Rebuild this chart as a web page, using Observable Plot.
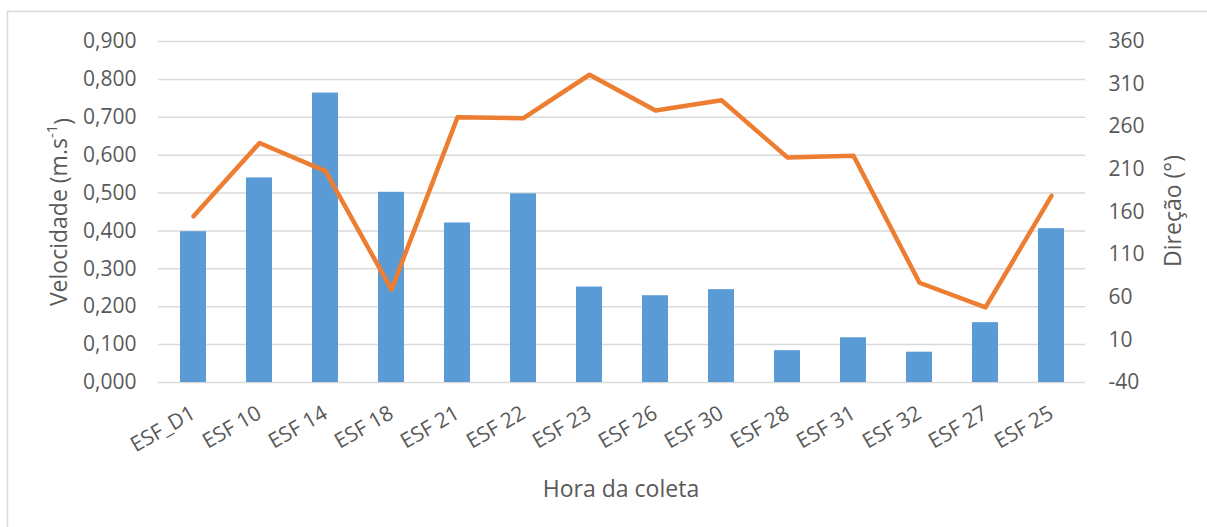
<!DOCTYPE html>
<html>
<head>
<meta charset="utf-8">
<script src="https://cdn.jsdelivr.net/npm/d3@7"></script>
<script src="https://cdn.jsdelivr.net/npm/@observablehq/plot@0.6"></script>
<style>
  body { margin: 0; background: #fff; }
  #chart { position: relative; width: 1207px; height: 527px; overflow: hidden; }
</style>
</head>
<body>
<div id="chart"></div>
<script>
// Categories (x axis)
const categories = ["ESF_D1", "ESF 10", "ESF 14", "ESF 18", "ESF 21", "ESF 22", "ESF 23",
                    "ESF 26", "ESF 30", "ESF 28", "ESF 31", "ESF 32", "ESF 27", "ESF 25"];
// Velocidade (m.s-1) — bars, left axis
const velocidade = [0.398, 0.540, 0.764, 0.502, 0.421, 0.498, 0.252,
                    0.229, 0.245, 0.084, 0.118, 0.080, 0.158, 0.406];
// Direção (°) — line, right axis
const direcao = [155, 241, 208, 69, 271, 270, 321,
                 279, 291, 224, 226, 77, 48, 179];
// Tick labels
const velTicks = [0, 0.1, 0.2, 0.3, 0.4, 0.5, 0.6, 0.7, 0.8, 0.9];
const dirTicks = [-40, 10, 60, 110, 160, 210, 260, 310, 360];

const velMax = 0.9, dirMin = -40, dirMax = 360;
const toV = d => (d - dirMin) / (dirMax - dirMin) * velMax;
const toD = v => Math.round(v / velMax * (dirMax - dirMin) + dirMin);
const rows = categories.map((c, i) => ({c, v: velocidade[i], d: direcao[i]}));
const fmtVel = v => d3.format(".3f")(v).replace(".", ",");

const textColor = "#595959";
const plot = Plot.plot({
  width: 1207,
  height: 527,
  marginLeft: 158,
  marginRight: 122,
  marginTop: 41,
  marginBottom: 145,
  style: {fontFamily: "'Open Sans', sans-serif", fontSize: "21px", color: textColor, background: "transparent"},
  x: {domain: categories, type: "band", paddingInner: 0.61, paddingOuter: 0.305, label: null},
  y: {domain: [0, velMax], label: null},
  marks: [
    Plot.ruleY(velTicks, {stroke: "#d9d9d9", strokeWidth: 1.5}),
    Plot.barY(rows, {x: "c", y: "v", fill: "#5B9BD5"}),
    Plot.line(rows, {x: "c", y: r => toV(r.d), stroke: "#ED7D31", strokeWidth: 4.5,
                     strokeLinejoin: "round", strokeLinecap: "round"}),
    Plot.axisY(velTicks, {anchor: "left", tickSize: 0, tickPadding: 22, tickFormat: fmtVel, label: null, fill: textColor}),
    Plot.axisY(dirTicks.map(toV), {anchor: "right", tickSize: 0, tickPadding: 23, tickFormat: toD, label: null, fill: textColor}),
    Plot.axisX({tickRotate: -30, tickSize: 0, tickPadding: 29, label: null, fill: textColor})
  ]
});

const chart = document.getElementById("chart");
chart.appendChild(plot);
const svg = d3.select(plot);

// Outer border
svg.insert("rect", ":first-child")
  .attr("x", 7.5).attr("y", 11.5).attr("width", 1400).attr("height", 700)
  .attr("fill", "none").attr("stroke", "#d9d9d9").attr("stroke-width", 1.5);

const titleFont = "'Open Sans', sans-serif";
// Left title
const lt = svg.append("text")
  .attr("transform", "translate(58,212) rotate(-90)")
  .attr("text-anchor", "middle").attr("dominant-baseline", "central")
  .attr("font-family", titleFont).attr("font-size", 23).attr("fill", textColor);
lt.append("tspan").text("Velocidade (m.s");
lt.append("tspan").attr("dy", "-0.45em").attr("font-size", 15).text("-1");
lt.append("tspan").attr("dy", "0.45em").text(")");

// Right title
svg.append("text")
  .attr("transform", "translate(1172,211) rotate(-90)")
  .attr("text-anchor", "middle").attr("dominant-baseline", "central")
  .attr("font-family", titleFont).attr("font-size", 23).attr("fill", textColor)
  .text("Direção (°)");

// Bottom title
svg.append("text")
  .attr("x", 621).attr("y", 488)
  .attr("text-anchor", "middle").attr("dominant-baseline", "central")
  .attr("font-family", titleFont).attr("font-size", 23).attr("fill", textColor)
  .text("Hora da coleta");
</script>
</body>
</html>
